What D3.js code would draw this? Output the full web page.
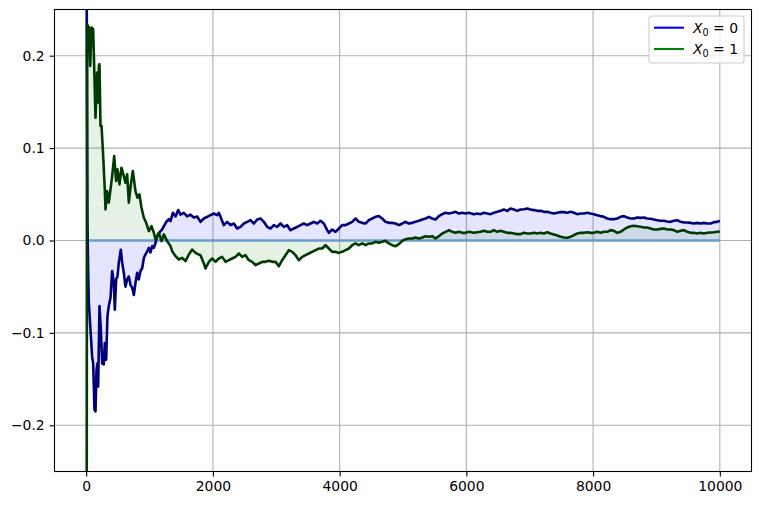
<!DOCTYPE html>
<html>
<head>
<meta charset="utf-8">
<script src="https://cdn.jsdelivr.net/npm/d3@7"></script>
<style>
  body { margin: 0; background: #fff; }
  svg { display: block; font-family: "DejaVu Sans", sans-serif; }
</style>
</head>
<body>
<svg id="chart" width="761" height="505"></svg>
<script>
// running deviation, start in state 0 (blue) / state 1 (green)
const stepsX0 = [0, 10, 20, 30, 41, 68, 94, 110, 131, 147, 163, 178, 189, 210, 231, 252, 278, 294, 315, 336,
  357, 384, 410, 436, 452, 473, 494, 515, 547, 568, 594, 620, 647, 673, 699, 726, 752, 778, 805, 831,
  857, 884, 910, 936, 962, 989, 1015, 1041, 1068, 1094, 1120, 1147, 1199, 1226, 1262, 1305, 1331, 1368, 1410, 1452,
  1489, 1541, 1594, 1646, 1699, 1752,
  1804, 1857, 1909, 1962, 2014, 2067, 2093, 2120, 2172, 2225, 2278, 2330, 2383, 2435, 2488, 2541, 2593, 2646, 2699, 2751,
  2804, 2856, 2909, 2962, 3014, 3067, 3120, 3172, 3225, 3277, 3330, 3383, 3435, 3488, 3540, 3593, 3646, 3698, 3751, 3804,
  3830, 3882, 3935, 3988, 4040, 4093, 4146, 4198, 4251, 4303, 4356, 4409, 4461, 4514, 4567, 4619, 4672, 4724, 4777, 4830,
  4882, 4935, 4988, 5040, 5093, 5145, 5198, 5251, 5303, 5356, 5408, 5461, 5514, 5566, 5619, 5672, 5724, 5777, 5829, 5882,
  5935, 5987, 6040,
  6119, 6171, 6224, 6276, 6329, 6382, 6434, 6487, 6540, 6592, 6645, 6697, 6750, 6803, 6855, 6908, 6961, 7013, 7066, 7118,
  7171, 7224, 7276, 7329, 7382, 7434, 7487, 7539, 7592, 7645, 7697, 7750, 7802, 7855, 7908, 7960, 8013, 8066, 8118, 8171,
  8223, 8276, 8329, 8381, 8434, 8487, 8539, 8592, 8644, 8697, 8750, 8802, 8855, 8907, 8960, 9013, 9065, 9118, 9171, 9223,
  9276, 9328, 9381, 9434, 9486, 9539, 9592, 9644, 9697, 9749, 9802, 9855, 9907, 9960, 10000];
const valsX0 = [1.0, 0.2, 0.02, -0.03, -0.066, -0.097, -0.126, -0.133, -0.183, -0.185, -0.140, -0.133, -0.158, -0.071, -0.096, -0.133, -0.134, -0.111, -0.129, -0.082,
  -0.071, -0.062, -0.033, -0.046, -0.075, -0.042, -0.039, -0.024, -0.010, -0.024, -0.035, -0.050, -0.042, -0.039, -0.048, -0.051, -0.059, -0.046, -0.035, -0.042,
  -0.033, -0.030, -0.019, -0.015, -0.012, -0.008, -0.013, -0.006, -0.008, -0.003, 0.005, 0.008, 0.012, 0.0155, 0.020, 0.023, 0.021, 0.030, 0.026, 0.033,
  0.028, 0.030, 0.026, 0.028, 0.025, 0.026,
  0.0202, 0.0238, 0.0256, 0.0274, 0.0292, 0.0274, 0.0300, 0.0256, 0.0166, 0.0202, 0.0166, 0.0184, 0.0130, 0.0148, 0.0184, 0.0202, 0.0220, 0.0184, 0.0227, 0.0238,
  0.0202, 0.0148, 0.0130, 0.0166, 0.0148, 0.0184, 0.0148, 0.0166, 0.0112, 0.0130, 0.0148, 0.0166, 0.0184, 0.0166, 0.0184, 0.0202, 0.0184, 0.0213, 0.0184, 0.0112,
  0.0083, 0.0119, 0.0094, 0.0130, 0.0166, 0.0166, 0.0184, 0.0202, 0.0238, 0.0202, 0.0191, 0.0184, 0.0220, 0.0238, 0.0256, 0.0264, 0.0238, 0.0202, 0.0191, 0.0191,
  0.0184, 0.0166, 0.0184, 0.0202, 0.0184, 0.0191, 0.0202, 0.0213, 0.0227, 0.0238, 0.0256, 0.0238, 0.0227, 0.0264, 0.0285, 0.0300, 0.0292, 0.0300, 0.0310, 0.0292,
  0.0300, 0.0292, 0.0300,
  0.0285, 0.0292, 0.0285, 0.0300, 0.0292, 0.0285, 0.0300, 0.0310, 0.0321, 0.0336, 0.0321, 0.0347, 0.0336, 0.0321, 0.0336, 0.0339, 0.0347, 0.0336, 0.0329, 0.0321,
  0.0321, 0.0310, 0.0310, 0.0300, 0.0292, 0.0300, 0.0307, 0.0307, 0.0300, 0.0310, 0.0300, 0.0285, 0.0292, 0.0292, 0.0300, 0.0292, 0.0285, 0.0274, 0.0264, 0.0256,
  0.0238, 0.0231, 0.0231, 0.0238, 0.0256, 0.0264, 0.0249, 0.0238, 0.0238, 0.0249, 0.0245, 0.0249, 0.0238, 0.0235, 0.0227, 0.0220, 0.0213, 0.0213, 0.0206, 0.0202,
  0.0213, 0.0220, 0.0202, 0.0195, 0.0195, 0.0191, 0.0184, 0.0191, 0.0184, 0.0191, 0.0184, 0.0184, 0.0199, 0.0202, 0.0213];

const stepsX1 = [0, 15, 42, 63, 84, 110, 126, 147, 173, 189, 200, 210, 226, 242, 263, 294, 305, 331, 357, 384,
  410, 442, 473, 494, 526, 557, 594, 620, 647, 673, 705, 736, 778, 810, 841, 873, 910, 947, 989, 1031,
  1068, 1094, 1147, 1189, 1226, 1278, 1331, 1357, 1410, 1462, 1515, 1568, 1620, 1673, 1726, 1778,
  1804, 1857, 1883, 1936, 1988, 2041, 2093, 2146, 2199, 2251, 2304, 2357, 2409, 2462, 2514, 2567, 2620, 2672, 2725, 2778,
  2830, 2883, 2935, 2988, 3041, 3093, 3146, 3198, 3251, 3304, 3356, 3409, 3462, 3514, 3567, 3620, 3672, 3725, 3777, 3830,
  3882, 3935, 3988, 4040, 4093, 4146, 4198, 4251, 4303, 4356, 4409, 4461, 4514, 4567, 4619, 4672, 4724, 4777, 4830, 4882,
  4935, 4988, 5040, 5093, 5145, 5198, 5251, 5303, 5356, 5408, 5461, 5514, 5566, 5619, 5672, 5724, 5777, 5829, 5882, 5935,
  5987, 6040,
  6119, 6171, 6224, 6276, 6329, 6382, 6434, 6487, 6540, 6592, 6645, 6697, 6750, 6803, 6855, 6908, 6961, 7013, 7066, 7118,
  7171, 7224, 7276, 7329, 7382, 7434, 7487, 7539, 7592, 7645, 7697, 7750, 7802, 7855, 7908, 7960, 8013, 8066, 8118, 8171,
  8223, 8276, 8329, 8381, 8434, 8487, 8539, 8592, 8644, 8697, 8750, 8802, 8855, 8907, 8960, 9013, 9065, 9118, 9171, 9223,
  9276, 9328, 9381, 9434, 9486, 9539, 9592, 9644, 9697, 9749, 9802, 9855, 9907, 9960, 10000];
const valsX1 = [-1.0, 0.234, 0.2305, 0.189, 0.2305, 0.2287, 0.189, 0.133, 0.1818, 0.1493, 0.189, 0.1908, 0.124, 0.124, 0.0987, 0.0553, 0.0336, 0.0535, 0.0409, 0.0553,
  0.0698, 0.0914, 0.0644, 0.077, 0.0607, 0.0788, 0.0698, 0.0625, 0.0716, 0.0409, 0.0607, 0.0752, 0.0535, 0.0463, 0.0499, 0.0354, 0.0246, 0.0192, 0.0102, 0.0156,
  0.0084, 0.0011, 0.0084, -0.0007, 0.0066, -0.0007, -0.0061, -0.0116, -0.017, -0.0206, -0.0188, -0.0224, -0.0152, -0.0098, -0.0134, -0.0152,
  -0.0159, -0.0249, -0.0303, -0.0231, -0.0195, -0.0231, -0.0195, -0.0177, -0.0231, -0.0213, -0.0195, -0.0177, -0.0141, -0.0177, -0.0159, -0.0213, -0.0231, -0.0267, -0.0249, -0.0231,
  -0.0231, -0.0220, -0.0231, -0.0231, -0.0278, -0.0213, -0.0159, -0.0105, -0.0123, -0.0159, -0.0213, -0.0177, -0.0159, -0.0141, -0.0123, -0.0105, -0.0087, -0.0087, -0.0051, -0.0087,
  -0.0123, -0.0123, -0.0134, -0.0123, -0.0105, -0.0087, -0.0051, -0.0032, -0.0051, -0.0032, -0.0051, -0.0032, -0.0032, -0.0014, -0.0025, -0.0014, -0.0004, -0.0032, -0.0051, -0.0061,
  -0.0040, -0.0004, 0.0014, 0.0022, 0.0022, 0.0032, 0.0022, 0.0032, 0.0047, 0.0040, 0.0047, 0.0022, 0.0047, 0.0076, 0.0094, 0.0112, 0.0094, 0.0083, 0.0094, 0.0083,
  0.0083, 0.0094,
  0.0083, 0.0090, 0.0094, 0.0105, 0.0094, 0.0094, 0.0112, 0.0094, 0.0105, 0.0094, 0.0083, 0.0083, 0.0076, 0.0069, 0.0069, 0.0083, 0.0076, 0.0076, 0.0083, 0.0076,
  0.0083, 0.0076, 0.0090, 0.0076, 0.0065, 0.0054, 0.0040, 0.0032, 0.0029, 0.0040, 0.0058, 0.0076, 0.0083, 0.0083, 0.0090, 0.0083, 0.0083, 0.0094, 0.0083, 0.0094,
  0.0094, 0.0112, 0.0105, 0.0083, 0.0094, 0.0119, 0.0141, 0.0155, 0.0159, 0.0155, 0.0148, 0.0141, 0.0141, 0.0130, 0.0119, 0.0119, 0.0126, 0.0130, 0.0119, 0.0119,
  0.0112, 0.0094, 0.0105, 0.0112, 0.0094, 0.0083, 0.0083, 0.0076, 0.0083, 0.0076, 0.0083, 0.0087, 0.0090, 0.0094, 0.0097];

const xTicks = [0, 2000, 4000, 6000, 8000, 10000];
const yTicks = [-0.2, -0.1, 0.0, 0.1, 0.2];
const legendLabels = ["0", "1"];

const svg = d3.select("#chart");
const margin = { left: 54.5, right: 9.5, top: 9.5, bottom: 33.5 };
const W = 761, H = 505;

const x = d3.scaleLinear().domain([-500, 10500]).range([margin.left, W - margin.right]);
const y = d3.scaleLinear().domain([-0.25, 0.25]).range([H - margin.bottom, margin.top]);

svg.append("rect").attr("width", W).attr("height", H).attr("fill", "#fff");

svg.append("clipPath").attr("id", "clip")
  .append("rect")
  .attr("x", x.range()[0]).attr("y", y.range()[1])
  .attr("width", x.range()[1] - x.range()[0])
  .attr("height", y.range()[0] - y.range()[1]);

// grid
svg.append("g").selectAll("line").data(xTicks).join("line")
  .attr("x1", d => x(d)).attr("x2", d => x(d))
  .attr("y1", y.range()[1]).attr("y2", y.range()[0])
  .attr("stroke", "#b0b0b0").attr("stroke-width", 1.1);
svg.append("g").selectAll("line").data(yTicks).join("line")
  .attr("y1", d => y(d)).attr("y2", d => y(d))
  .attr("x1", x.range()[0]).attr("x2", x.range()[1])
  .attr("stroke", "#b0b0b0").attr("stroke-width", 1.1);

const series = [
  { steps: stepsX0, vals: valsX0, fill: "rgba(0,0,255,0.1)", line: "#000078" },
  { steps: stepsX1, vals: valsX1, fill: "rgba(0,128,0,0.1)", line: "#003a00" }
];

const plot = svg.append("g").attr("clip-path", "url(#clip)");

const area = d3.area()
  .x(d => x(d[0]))
  .y0(y(0))
  .y1(d => y(d[1]));
const line = d3.line()
  .x(d => x(d[0]))
  .y(d => y(d[1]));

series.forEach(s => {
  const pts = s.steps.map((t, i) => [t, s.vals[i]]);
  plot.append("path").datum(pts)
    .attr("d", area)
    .attr("fill", s.fill);
});

// zero reference
plot.append("line")
  .attr("x1", x(0)).attr("x2", x(10000))
  .attr("y1", y(0)).attr("y2", y(0))
  .attr("stroke", "#6a9cc9").attr("stroke-width", 2.3);

series.forEach(s => {
  const pts = s.steps.map((t, i) => [t, s.vals[i]]);
  plot.append("path").datum(pts)
    .attr("d", line)
    .attr("fill", "none")
    .attr("stroke", s.line)
    .attr("stroke-width", 2.6)
    .attr("stroke-linejoin", "round");
});

// axes
const xAxis = svg.append("g")
  .attr("transform", `translate(0,${y.range()[0]})`)
  .call(d3.axisBottom(x).tickValues(xTicks).tickFormat(d3.format("d")).tickSize(4.9).tickPadding(4.9));
const yAxis = svg.append("g")
  .attr("transform", `translate(${x.range()[0]},0)`)
  .call(d3.axisLeft(y).tickValues(yTicks).tickFormat(d3.format(".1f")).tickSize(4.9).tickPadding(4.9));

[xAxis, yAxis].forEach(g => {
  g.select(".domain").remove();
  g.selectAll(".tick line").attr("stroke", "#000").attr("stroke-width", 1.1);
  g.selectAll(".tick text")
    .attr("fill", "#000")
    .style("font-family", "DejaVu Sans")
    .style("font-size", "13.9px");
});

// frame
svg.append("rect")
  .attr("x", x.range()[0]).attr("y", y.range()[1])
  .attr("width", x.range()[1] - x.range()[0])
  .attr("height", y.range()[0] - y.range()[1])
  .attr("fill", "none").attr("stroke", "#000").attr("stroke-width", 1.1);

// legend
const legend = svg.append("g").attr("transform", "translate(649,16)");
legend.append("rect")
  .attr("width", 95).attr("height", 47).attr("rx", 2.8)
  .attr("fill", "#fff").attr("fill-opacity", 0.8)
  .attr("stroke", "#cccccc").attr("stroke-width", 1.1);

const legendColors = ["#0000ff", "#008000"];
legendLabels.forEach((lab, i) => {
  const ly = 11.7 + i * 21.3;
  legend.append("line")
    .attr("x1", 5).attr("x2", 35).attr("y1", ly).attr("y2", ly)
    .attr("stroke", legendColors[i]).attr("stroke-width", 2.1);
  const t = legend.append("text")
    .attr("x", 44).attr("y", ly + 5)
    .style("font-family", "DejaVu Sans")
    .style("font-size", "13.9px");
  t.append("tspan").style("font-style", "italic").text("X");
  t.append("tspan").attr("dy", 3).style("font-size", "9.7px").text("0");
  t.append("tspan").attr("dy", -3).text(" = " + lab);
});
</script>
</body>
</html>
